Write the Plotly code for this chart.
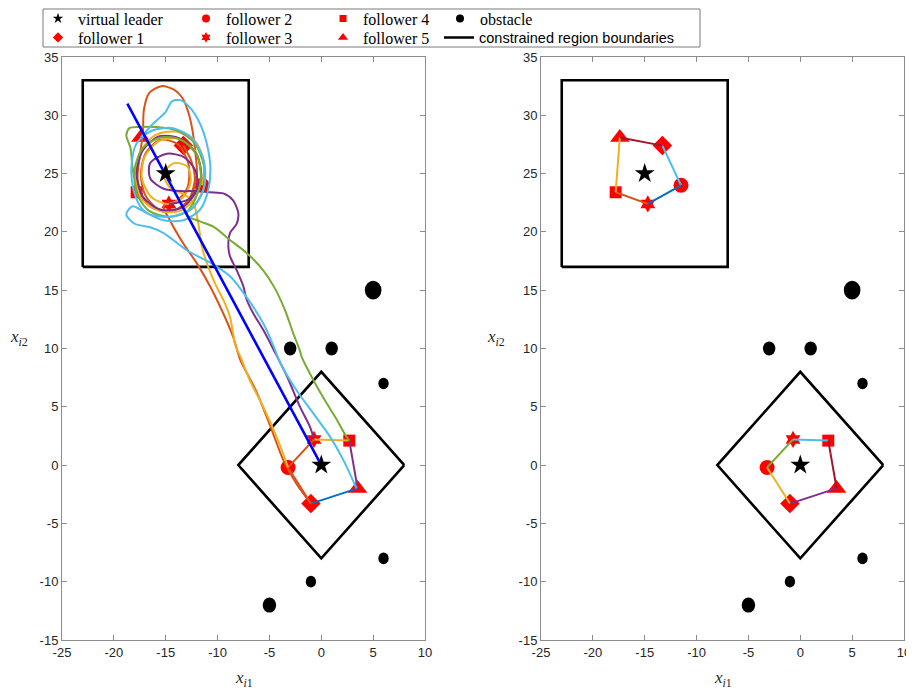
import plotly.graph_objects as go

# ---------------- data ----------------
x_ticks = [-25, -20, -15, -10, -5, 0, 5, 10]
x_tick_labels = ['-25', '-20', '-15', '-10', '-5', '0', '5', '10']
y_ticks = [-15, -10, -5, 0, 5, 10, 15, 20, 25, 30, 35]
y_tick_labels = ['-15', '-10', '-5', '0', '5', '10', '15', '20', '25', '30', '35']

leader_path_x = [-18.7, 0.0]
leader_path_y = [31.0, 0.0]
leader_marks_x = [-15.0, 0.0]
leader_marks_y = [25.0, 0.0]

follower_names = ['follower 1', 'follower 2', 'follower 3', 'follower 4', 'follower 5']
follower_symbols = ['diamond', 'circle', 'hexagram', 'square', 'triangle-up']
follower_sizes = [15, 15, 13, 12, 17]
start_x = [-13.3, -11.5, -14.7, -17.8, -17.4]
start_y = [27.4, 24.0, 22.4, 23.4, 28.1]
end_x = [-1.0, -3.2, -0.7, 2.7, 3.5]
end_y = [-3.3, -0.2, 2.2, 2.1, -2.0]

traj1_x = [-13.3, -12.5, -12.2, -12.9, -14.8, -16.8, -17.7, -17.5, -17.2, -17.1, -16.6, -15.4, -14.2, -13.4, -12.8,
           -12.4, -12.1, -12.0, -12.6, -14.0, -15.8, -17.0, -17.4, -16.9, -15.5, -13.8, -12.8, -12.9, -14.0, -15.2,
           -14.6, -13.3, -12.0, -10.7, -9.45, -8.5, -7.8, -7.0, -6.2, -4.9, -3.66, -2.4, -1.0]
traj1_y = [27.4, 26.0, 24.4, 22.6, 21.7, 22.4, 24.4, 26.5, 28.5, 30.5, 31.9, 32.5, 32.2, 31.5, 30.2,
           28.6, 26.5, 24.8, 23.0, 21.9, 22.0, 23.2, 25.0, 26.8, 27.9, 27.5, 25.8, 23.8, 22.6, 22.2,
           21.0, 19.0, 17.3, 15.3, 13.0, 11.0, 9.0, 7.6, 6.2, 3.3, 0.43, -1.6, -3.3]

traj2_x = [-11.5, -11.3, -12.2, -14.0, -16.0, -17.5, -17.9, -17.3, -15.6, -13.6, -12.1, -11.6, -12.2, -13.8, -15.6,
           -17.0, -17.3, -16.4, -14.8, -13.3, -12.6, -12.9, -14.2, -15.2, -14.6, -13.2, -12.4, -12.2, -11.85, -11.5,
           -10.9, -10.1, -9.3, -8.8, -8.5, -8.3, -7.8, -6.9, -5.6, -4.3, -3.2]
traj2_y = [24.0, 26.0, 27.8, 28.6, 28.3, 26.8, 24.8, 22.8, 21.8, 21.8, 23.0, 25.0, 27.0, 28.0, 27.8,
           26.5, 24.6, 23.0, 22.4, 23.0, 24.3, 25.6, 25.9, 25.0, 23.8, 23.2, 22.6, 22.2, 20.7, 18.7,
           17.0, 15.3, 13.9, 12.7, 11.3, 10.3, 9.3, 7.3, 5.0, 2.4, -0.2]

traj3_x = [-14.7, -12.8, -11.6, -12.0, -13.6, -15.6, -17.2, -17.8, -17.2, -15.5, -13.4, -12.0, -12.1, -13.2, -14.9,
           -16.5, -16.5, -15.2, -13.5, -12.0, -10.7, -9.45, -8.5, -8.0, -8.15, -8.8, -8.96, -8.8, -8.15, -7.5,
           -7.2, -6.55, -5.6, -4.6, -3.3, -2.05, -1.1, -0.7]
traj3_y = [22.4, 22.8, 24.5, 26.6, 28.0, 28.2, 27.0, 25.0, 23.0, 21.9, 22.1, 23.6, 25.2, 26.4, 26.7,
           25.9, 24.6, 23.7, 23.5, 23.5, 23.4, 23.3, 22.7, 21.6, 20.7, 19.9, 18.7, 17.9, 16.7, 15.3,
           14.2, 13.0, 11.6, 9.9, 7.6, 5.0, 3.3, 2.2]

traj4_x = [-17.8, -18.2, -18.4, -18.8, -18.5, -17.5, -15.9, -13.9, -12.2, -11.3, -11.4, -12.6, -14.6, -16.6, -17.8,
           -18.0, -17.2, -15.5, -13.5, -12.0, -11.6, -12.2, -13.0, -11.7, -10.4, -8.8, -7.2, -5.6, -4.5, -3.5,
           -2.7, -2.1, -1.9, -0.77, 0.52, 1.5, 2.3, 2.7]
traj4_y = [23.4, 25.5, 27.2, 28.3, 28.9, 29.0, 29.0, 28.7, 27.6, 25.6, 23.5, 21.9, 21.3, 21.8, 23.3,
           25.4, 27.2, 28.1, 27.9, 26.6, 24.6, 22.7, 21.45, 20.9, 20.45, 19.3, 18.2, 16.7, 15.2, 13.3,
           11.3, 9.9, 9.3, 7.3, 5.3, 3.9, 2.6, 2.1]

traj5_x = [-17.4, -16.2, -15.0, -14.4, -13.6, -12.7, -11.7, -11.05, -10.7, -10.9, -11.7, -13.3, -15.2, -17.2, -18.1,
           -18.3, -17.8, -16.3, -14.3, -12.4, -11.3, -11.3, -12.5, -14.5, -16.6, -18.2, -18.8, -18.0, -16.5, -15.2,
           -13.0, -10.4, -8.8, -7.2, -5.5, -4.6, -3.98, -2.37, -0.77, 0.84, 2.13, 3.4]
traj5_y = [28.1, 29.3, 30.3, 31.2, 31.3, 30.7, 29.3, 27.6, 25.6, 23.6, 21.9, 21.0, 21.0, 21.9, 23.6,
           25.6, 27.6, 28.7, 28.9, 28.0, 26.0, 23.8, 22.0, 21.3, 21.5, 22.2, 21.5, 20.7, 20.4, 19.9,
           18.45, 17.2, 16.2, 14.4, 12.0, 10.2, 8.8, 6.4, 4.44, 2.44, 0.43, -2.0]

traj_colors = ['#D95319', '#EDB120', '#7E2F8E', '#77AC30', '#4DBEEE']

obstacle_x = [5, -3, 1, 6, 6, -1, -5]
obstacle_y = [15, 10, 10, 7, -8, -10, -12]
obstacle_r = [0.8, 0.6, 0.6, 0.5, 0.5, 0.5, 0.65]

square_x = [-23, -7, -7, -23, -23]
square_y = [17, 17, 33, 33, 17]
diamond_x = [8, 0, -8, 0, 8]
diamond_y = [0, 8, 0, -8, 0]

ring_pairs = [(0, 1), (1, 2), (2, 3), (3, 4), (4, 0)]
left_end_edge_colors = ['#D95319', '#D95319', '#EDB120', '#7E2F8E', '#0072BD']
right_start_edge_colors = ['#4DBEEE', '#0072BD', '#D95319', '#EDB120', '#A2142F']
right_end_edge_colors = ['#EDB120', '#77AC30', '#4DBEEE', '#A2142F', '#7E2F8E']

# ---------------- figure ----------------
# the page body has an 8px default margin; work in window pixels and convert
OFF = 8
W, H = 914 - OFF, 690 - OFF


def px_x(px):
    return (px - OFF) / W


def px_y(py):
    return 1 - (py - OFF) / H


fig = go.Figure()


def add_edges(xs, ys, colors, xa, ya):
    for (a, b), c in zip(ring_pairs, colors):
        fig.add_trace(go.Scatter(x=[xs[a], xs[b]], y=[ys[a], ys[b]], mode='lines',
                                 line=dict(color=c, width=2), showlegend=False,
                                 hoverinfo='skip', xaxis=xa, yaxis=ya))


def add_regions(xa, ya):
    for bx, by in ((square_x, square_y), (diamond_x, diamond_y)):
        fig.add_trace(go.Scatter(x=bx, y=by, mode='lines', line=dict(color='black', width=2.6),
                                 showlegend=False, hoverinfo='skip', xaxis=xa, yaxis=ya))


def add_follower_markers(xs_list, ys_list, xa, ya):
    for i in range(5):
        fig.add_trace(go.Scatter(x=[xs[i] for xs in xs_list], y=[ys[i] for ys in ys_list], mode='markers',
                                 marker=dict(symbol=follower_symbols[i], size=follower_sizes[i], color='#FF0000',
                                             line=dict(width=0)),
                                 showlegend=False, hoverinfo='skip', xaxis=xa, yaxis=ya))


def add_leader_markers(xa, ya):
    fig.add_trace(go.Scatter(x=leader_marks_x, y=leader_marks_y, mode='markers',
                             marker=dict(symbol='star', size=15, color='black', line=dict(width=0)),
                             showlegend=False, hoverinfo='skip', xaxis=xa, yaxis=ya))


# left panel
add_regions('x', 'y')
add_follower_markers([start_x, end_x], [start_y, end_y], 'x', 'y')
add_edges(end_x, end_y, left_end_edge_colors, 'x', 'y')
trajs = [(traj1_x, traj1_y), (traj2_x, traj2_y), (traj3_x, traj3_y), (traj4_x, traj4_y), (traj5_x, traj5_y)]
for (tx, ty), c in zip(trajs, traj_colors):
    fig.add_trace(go.Scatter(x=tx, y=ty, mode='lines', line=dict(color=c, width=2, shape='spline', smoothing=0.8),
                             showlegend=False, hoverinfo='skip', xaxis='x', yaxis='y'))
fig.add_trace(go.Scatter(x=leader_path_x, y=leader_path_y, mode='lines', line=dict(color='#0000FF', width=2.6),
                         showlegend=False, hoverinfo='skip', xaxis='x', yaxis='y'))
add_leader_markers('x', 'y')

# right panel
add_regions('x2', 'y2')
add_follower_markers([start_x, end_x], [start_y, end_y], 'x2', 'y2')
add_edges(start_x, start_y, right_start_edge_colors, 'x2', 'y2')
add_edges(end_x, end_y, right_end_edge_colors, 'x2', 'y2')
add_leader_markers('x2', 'y2')

# obstacles (filled circles in data units)
shapes = []
for ax in ('', '2'):
    for ox, oy, r in zip(obstacle_x, obstacle_y, obstacle_r):
        shapes.append(dict(type='circle', xref='x' + ax, yref='y' + ax, x0=ox - r, x1=ox + r,
                           y0=oy - r, y1=oy + r, fillcolor='black', line=dict(width=0)))

# legend box
shapes.append(dict(type='rect', xref='paper', yref='paper', x0=px_x(43), x1=px_x(700), y0=px_y(47), y1=px_y(9),
                   line=dict(color='#7a7a7a', width=1), fillcolor='rgba(0,0,0,0)'))

# legend entries (legend-only traces), one legend per cell
ROW1, ROW2 = 18.5, 37.5
legend_entries = [
    ('virtual leader', dict(symbol='star', color='black', size=8), 'markers', 62, ROW1, 'serif'),
    ('follower 2', dict(symbol='circle', color='#FF0000', size=8), 'markers', 210, ROW1, 'serif'),
    ('follower 4', dict(symbol='square', color='#FF0000', size=7), 'markers', 347, ROW1, 'serif'),
    ('obstacle', dict(symbol='circle', color='black', size=8), 'markers', 464, ROW1, 'serif'),
    ('follower 1', dict(symbol='diamond', color='#FF0000', size=8), 'markers', 62, ROW2, 'serif'),
    ('follower 3', dict(symbol='hexagram', color='#FF0000', size=8), 'markers', 210, ROW2, 'serif'),
    ('follower 5', dict(symbol='triangle-up', color='#FF0000', size=9), 'markers', 347, ROW2, 'serif'),
    ('constrained region boundaries', None, 'lines', 463, ROW2, 'sans'),
]
legend_layouts = {}
for k, (name, mk, mode, cx, cy, fam) in enumerate(legend_entries):
    lname = 'legend' if k == 0 else 'legend%d' % (k + 1)
    if mode == 'markers':
        fig.add_trace(go.Scatter(x=[None], y=[None], mode='markers', name=name,
                                 marker=dict(line=dict(width=0), **mk), legend=lname, xaxis='x', yaxis='y'))
    else:
        fig.add_trace(go.Scatter(x=[None], y=[None], mode='lines', name=name,
                                 line=dict(color='black', width=2.6), legend=lname, xaxis='x', yaxis='y'))
    font = dict(family='Liberation Serif', size=16, color='black') if fam == 'serif' else \
        dict(family='Liberation Sans', size=14.5, color='black')
    legend_layouts[lname] = dict(x=px_x(cx - 24), y=px_y(cy), xanchor='left', yanchor='middle',
                                 bgcolor='rgba(0,0,0,0)', borderwidth=0, font=font, orientation='v')

axis_common = dict(showline=True, linecolor='#8c8c8c', linewidth=1, mirror='ticks', ticks='inside',
                   ticklen=5, tickcolor='#8c8c8c', showgrid=False, zeroline=False,
                   tickfont=dict(family='Liberation Sans', size=13, color='#262626'))

x_dom_l = [px_x(62), px_x(425)]
x_dom_r = [px_x(541), px_x(904)]
y_dom = [px_y(640), px_y(57)]

fig.update_layout(
    width=W, height=H, margin=dict(l=0, r=0, t=0, b=0, autoexpand=False),
    paper_bgcolor='white', plot_bgcolor='white',
    xaxis=dict(domain=x_dom_l, range=[-25, 10], tickvals=x_ticks, ticktext=x_tick_labels, anchor='y', **axis_common),
    yaxis=dict(domain=y_dom, range=[-15, 35], tickvals=y_ticks, ticktext=y_tick_labels, anchor='x', **axis_common),
    xaxis2=dict(domain=x_dom_r, range=[-25, 10], tickvals=x_ticks, ticktext=x_tick_labels, anchor='y2', **axis_common),
    yaxis2=dict(domain=y_dom, range=[-15, 35], tickvals=y_ticks, ticktext=y_tick_labels, anchor='x2', **axis_common),
    shapes=shapes,
    showlegend=True,
    **legend_layouts,
)

label_font = dict(family='Liberation Serif', size=17, color='#262626')
annotations = []
for xd in (x_dom_l, x_dom_r):
    annotations.append(dict(text='<i>x</i><sub><i>i</i>1</sub>', xref='paper', yref='paper',
                            x=(xd[0] + xd[1]) / 2, y=px_y(679), showarrow=False, font=label_font,
                            xanchor='center', yanchor='middle'))
for px in (19, 496):
    annotations.append(dict(text='<i>x</i><sub><i>i</i>2</sub>', xref='paper', yref='paper',
                            x=px_x(px), y=px_y(338), showarrow=False, font=label_font,
                            xanchor='center', yanchor='middle'))
fig.update_layout(annotations=annotations)

fig.write_html('out.html')
